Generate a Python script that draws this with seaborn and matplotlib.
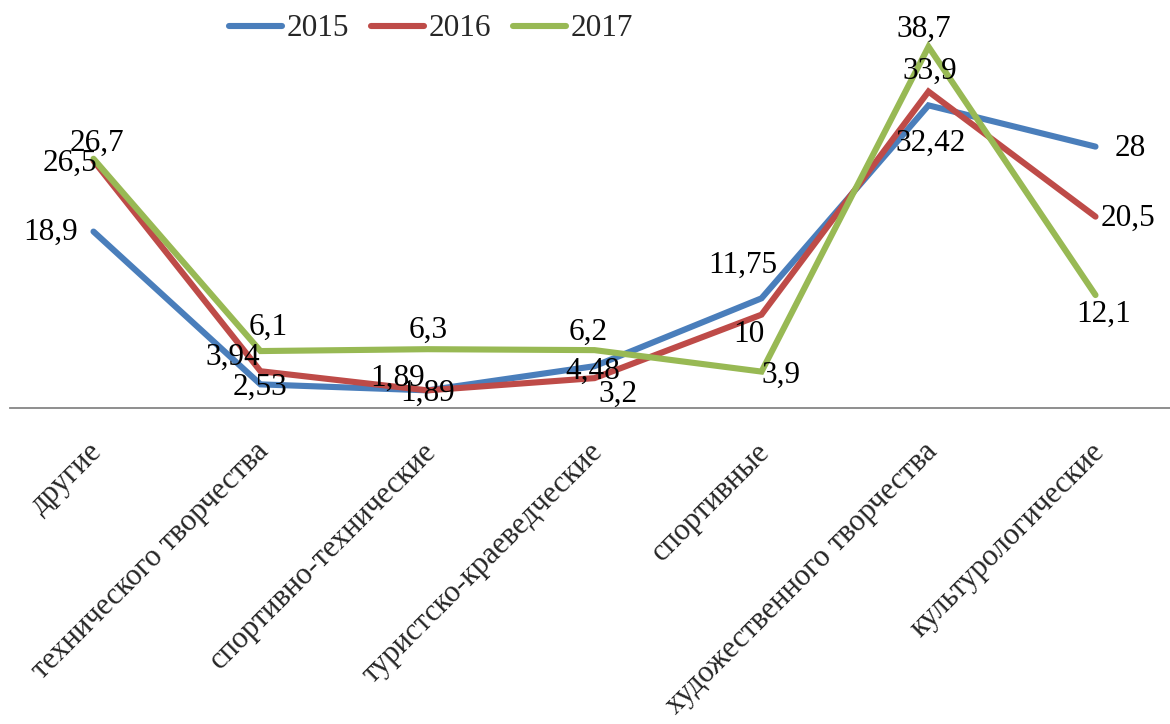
import numpy as np
import pandas as pd
import matplotlib
matplotlib.use("Agg")
import matplotlib.pyplot as plt
import matplotlib.transforms as mtransforms
import seaborn as sns
from matplotlib.lines import Line2D

categories = ["другие", "технического творчества", "спортивно-технические",
              "туристско-краеведческие", "спортивные",
              "художественного творчества", "культурологические"]
years = ["2015", "2016", "2017"]
v2015 = [18.9, 2.53, 1.89, 4.48, 11.75, 32.42, 28]
v2016 = [26.5, 3.94, 1.89, 3.2, 10, 33.9, 20.5]
v2017 = [26.7, 6.1, 6.3, 6.2, 3.9, 38.7, 12.1]
labels2015 = ["18,9", "2,53", "1,89", "4,48", "11,75", "32,42", "28"]
labels2016 = ["26,5", "3,94", "1,89", "3,2", "10", "33,9", "20,5"]
labels2017 = ["26,7", "6,1", "6,3", "6,2", "3,9", "38,7", "12,1"]

colors = ["#4A7EBB", "#BE4B48", "#98B954"]

# label offsets in pixels (dx, dy) relative to each point
offsets = {
    "2015": [(-43, -1), (0, -3), (-30, 12), (-2, -5), (-19, 33), (2, -38), (35, -2)],
    "2016": [(-23, -3), (-28, 14), (0, -3), (24, -16), (-13, -20), (1, 20), (32, -2)],
    "2017": [(3, 15), (8, 24), (1, 19), (-6, 18), (19, -4), (-5, 17), (8, -19)],
}

series = {"2015": v2015, "2016": v2016, "2017": v2017}
series_labels = {"2015": labels2015, "2016": labels2016, "2017": labels2017}

rows = []
for y in years:
    for i, c in enumerate(categories):
        rows.append({"pos": i, "cat": c, "year": y, "value": series[y][i]})
df = pd.DataFrame(rows)

sns.set_style("white")
plt.rcParams["font.family"] = ["Liberation Serif", "DejaVu Serif"]

W, H = 1170, 724
FS = 22.5
fig = plt.figure(figsize=(W / 100, H / 100), dpi=100)
ax_left, ax_right = 10 / W, 1179 / W
ax_bottom, ax_top = 1 - 408 / H, 1 - 34.6 / H
ax = fig.add_axes([ax_left, ax_bottom, ax_right - ax_left, ax_top - ax_bottom])

sns.lineplot(data=df, x="pos", y="value", hue="year", palette=colors,
             linewidth=4.4, ax=ax, legend=False, estimator=None, sort=False)
for ln in ax.lines:
    ln.set_solid_capstyle("round")
    ln.set_solid_joinstyle("miter")

ax.set_xlim(-0.5, 6.5)
ax.set_ylim(0, 40)
ax.set_xlabel("")
ax.set_ylabel("")
ax.set_yticks([])

for s in ["top", "right", "left"]:
    ax.spines[s].set_visible(False)
ax.spines["bottom"].set_color("#868686")
ax.spines["bottom"].set_linewidth(1.3)

ax.set_xticks(range(len(categories)))
ax.set_xticklabels(categories, rotation=45, ha="right", rotation_mode="anchor",
                   fontsize=22)
ax.tick_params(axis="x", which="major", length=0, pad=21)
shift = mtransforms.ScaledTranslation(-6 / 100, 0, fig.dpi_scale_trans)
for lbl in ax.get_xticklabels():
    lbl.set_transform(lbl.get_transform() + shift)
ax.set_xticks(np.arange(-0.5, 7.0, 1.0), minor=True)
ax.tick_params(axis="x", which="minor", length=9, width=1.3, color="#868686",
               direction="out")

for y in years:
    for i in range(len(categories)):
        dx, dy = offsets[y][i]
        ax.annotate(series_labels[y][i], (i, series[y][i]), xytext=(dx, dy),
                    textcoords="offset pixels", ha="center", va="center",
                    fontsize=FS, color="black")

handles = [Line2D([0], [0], color=c, lw=4.4, solid_capstyle="round") for c in colors]
fig.legend(handles, years, loc="center", bbox_to_anchor=(431 / W, 1 - 29 / H),
           ncol=3, frameon=False, fontsize=FS, handlelength=1.7,
           handletextpad=0.15, columnspacing=0.7, borderaxespad=0)

fig.savefig("out.png", dpi=100)
